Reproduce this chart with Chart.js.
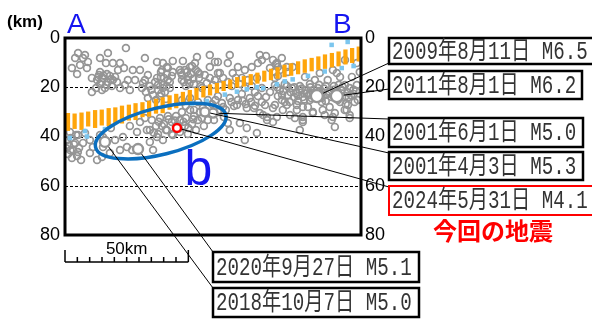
<!DOCTYPE html>
<html><head><meta charset="utf-8">
<script src="https://cdn.jsdelivr.net/npm/chart.js@4"></script>
<style>html,body{margin:0;padding:0;background:#fff;}canvas{display:block;}</style>
</head><body>
<canvas id="c" width="592" height="319"></canvas>
<script>
// ---- data (distance along A-B in km, depth in km) ----
const depthTicks = [0, 20, 40, 60, 80];
const quakes = [
[5.3,6.1],[4.1,8.1],[7.3,8.1],[6.1,11.0],[9.3,9.7],[8.9,12.2],[4.9,14.6],[14.2,8.1],[17.4,6.1],[16.6,10.2],
[19.4,10.2],[22.3,10.2],[24.7,4.1],[21.5,13.0],[23.9,12.2],[27.5,13.0],[30.4,13.0],[10.9,16.2],[13.4,15.8],[14.2,13.8],
[20.3,15.8],[21.1,17.9],[25.5,17.1],[28.4,17.1],[31.6,18.3],[33.6,15.0],[37.3,9.7],[37.3,16.2],[37.7,19.1],[43.7,9.3],
[47.8,9.3],[41.3,11.8],[43.7,13.8],[49.4,13.8],[47.4,17.1],[52.7,10.2],[2.8,12.2],[8.1,6.9],[32.4,8.1],[39.3,13.0],
[13.0,17.1],[14.2,18.7],[15.4,16.2],[16.2,20.3],[17.4,17.9],[18.2,15.4],[19.0,19.5],[12.6,20.3],[15.0,21.1],[17.0,14.6],
[13.8,15.0],[19.4,17.1],[22.3,20.3],[24.3,19.1],[26.3,21.1],[10.9,21.9],
[31.2,20.3],[32.8,21.9],[34.4,19.5],[35.7,23.1],[36.5,17.9],[37.7,21.1],[38.5,23.6],[39.7,19.1],[40.5,21.9],[41.7,17.1],
[42.5,20.3],[33.6,24.4],[36.9,25.2],[40.9,24.8],[32.4,17.1],[38.9,15.8],
[53.5,7.7],[58.7,6.9],[62.0,9.7],[66.8,6.9],[66.0,10.2],[70.1,11.8],[72.9,13.0],[75.7,11.8],[78.2,10.2],[79.0,6.9],
[71.7,16.2],[68.0,14.2],[62.8,14.2],[60.8,9.7],[58.7,11.8],[62.0,14.2],[50.7,11.8],[46.6,13.0],[41.7,12.2],[39.7,10.2],
[47.4,15.0],[48.6,13.0],[49.8,17.1],[51.1,14.6],[52.3,18.7],[53.1,13.0],[54.3,16.2],[55.1,19.5],[49.0,19.5],[51.5,11.4],
[53.9,13.8],[48.2,17.9],[38.9,13.8],[40.1,16.2],[41.3,14.6],[42.5,17.9],[39.7,20.3],[43.3,15.4],[58.7,16.2],[60.0,19.1],
[55.5,20.3],[57.5,18.3],[56.7,15.0],[60.8,17.1],[62.8,19.1],[64.1,16.2],[66.0,17.9],[67.6,19.5],[69.3,16.2],[70.9,18.7],
[72.9,20.3],[74.1,17.1],[75.7,19.5],[77.8,16.2],
[79.8,8.9],[85.9,10.2],[89.9,11.8],[87.9,8.1],[92.3,11.8],[84.3,8.9],[86.3,11.8],[90.3,13.8],[97.3,15.8],[103.3,14.2],
[108.6,13.0],[111.5,15.8],[116.3,15.8],[118.3,19.1],[113.5,19.1],[110.2,14.2],[118.3,10.2],[119.5,13.8],[113.5,8.9],[81.5,7.3],
[83.1,12.2],[84.7,13.8],[86.3,15.4],[85.1,16.2],[87.1,13.0],[85.5,10.6],
[85.1,19.1],[87.1,21.1],[89.1,18.7],[90.3,23.1],[92.0,20.3],[93.6,22.3],[95.2,19.5],[96.4,24.0],[97.7,21.1],[99.3,18.7],
[100.5,22.3],[102.5,20.3],[104.1,24.4],[105.7,19.5],[107.3,21.9],[109.0,19.5],[110.6,25.2],[112.2,21.1],[113.8,23.6],[115.4,20.3],
[117.0,22.7],[118.7,25.2],[87.9,25.2],[91.1,26.0],[94.4,25.6],[99.3,25.2],[105.7,25.6],[113.8,26.8],[86.3,23.6],[83.1,21.9],
[79.8,20.3],[81.5,24.0],[101.3,17.1],[106.5,17.1],[104.0,22.0],[106.0,23.0],[108.0,24.0],[101.0,21.0],[99.0,23.0],[97.0,22.5],
[95.0,21.0],[93.0,24.0],[110.0,23.0],[115.0,24.0],[117.0,21.0],[103.0,19.0],[111.0,19.0],[88.0,23.0],[86.0,20.0],
[88.5,21.5],[90.0,19.5],[91.5,22.0],[93.0,20.0],[94.5,23.5],[96.0,20.5],[98.0,22.5],[99.5,20.0],[101.5,23.5],[103.0,21.5],
[105.0,20.5],[107.0,22.5],[109.0,21.0],[111.0,23.5],[112.5,19.8],[114.5,22.0],[116.0,23.2],[118.0,21.5],[100.0,24.5],[97.0,25.0],
[47.4,25.2],[49.0,27.6],[50.7,24.4],[52.3,29.2],[53.9,26.0],[55.9,28.4],[57.9,25.2],[59.6,26.8],[62.0,23.6],[63.6,26.4],
[65.2,29.2],[66.8,24.4],[68.5,27.6],[70.1,25.2],[71.7,22.7],[73.3,26.8],[74.9,24.4],[76.6,28.4],[78.2,23.6],[79.8,26.0],
[77.0,21.9],[81.1,27.2],[85.1,27.2],[89.1,26.0],[94.0,27.2],[98.5,28.0],[104.1,26.0],[107.3,28.0],[111.5,26.0],[114.7,27.2],
[117.4,26.0],[88.3,29.2],[94.0,29.2],[96.4,32.1],[100.5,30.1],[105.3,31.3],[109.4,30.5],[113.4,29.2],[115.4,32.5],[108.1,33.3],
[96.4,34.1],[81.9,32.1],[84.3,34.1],[93.2,32.5],[109.4,36.1],[95.2,37.4],[80.3,31.3],[64.1,28.0],[69.7,27.2],[73.7,28.4],
[79.0,30.5],[84.3,28.4],[89.9,27.2],[91.2,31.3],[96.4,28.0],[100.5,30.5],[104.5,29.2],[108.6,32.1],[114.2,29.2],[115.4,31.3],
[66.8,37.4],[73.7,36.5],[81.9,33.3],[85.9,32.1],[96.4,33.3],[66.0,34.5],[77.8,38.6],[70.9,34.5],[72.9,41.4],
[61.0,25.2],[67.5,26.0],[72.0,25.5],[75.5,26.0],[77.0,27.5],
[50.0,15.5],[52.0,16.5],[54.5,14.5],[50.5,18.5],[47.0,14.0],[14.8,17.8],[16.8,19.0],[18.5,16.8],[15.6,15.2],
[35.0,21.0],[39.0,22.5],[41.2,19.5],
[47.4,30.1],[49.0,32.5],[50.7,29.2],[52.3,31.7],[53.9,33.3],[51.5,34.9],[48.6,35.7],[46.6,33.3],[45.0,31.7],[43.3,34.1],
[41.7,31.7],[40.1,34.9],[38.5,32.5],[36.9,35.7],[35.2,33.3],[34.4,37.4],[37.7,39.0],[40.9,37.4],[43.3,39.0],[46.6,38.2],
[49.8,39.0],[53.1,37.4],[56.3,35.7],[57.9,33.3],[33.2,37.4],[37.3,40.2],[39.7,41.4],[41.3,37.4],[43.7,39.4],[35.7,45.5],
[29.2,38.2],[34.4,42.2],[39.3,35.7],[45.0,35.7],[54.7,30.1],[55.5,32.5],[60.4,33.3],[62.0,30.1],[64.4,32.1],
[42.0,33.0],[44.5,33.5],[46.0,36.8],[48.0,34.0],[50.0,36.5],[52.0,33.0],[38.0,34.0],[36.0,38.5],
[0.8,41.4],[1.6,43.8],[2.4,40.6],[3.2,45.5],[4.1,42.6],[4.9,47.9],[5.7,44.7],[6.5,49.5],[1.2,47.1],[2.8,48.7],
[4.5,39.4],[2.0,38.2],[7.3,42.6],[10.1,41.4],[11.3,44.3],[10.1,46.7],[13.0,49.5],[15.0,48.3],[18.2,46.7],[14.2,39.4],
[20.3,41.4],[23.5,40.2],[25.1,44.3],[27.2,45.5],[22.3,45.5],[15.4,44.3],[8.1,38.6],[5.3,39.4],[15.4,40.2],[18.6,36.5],
[26.3,35.7],[30.4,34.1],[32.4,32.5],[3.6,43.2],[2.2,45.6],[5.2,46.3],[0.6,44.8]
];
const lightBlue = [
[2.0,40.6],[8.1,37.8],[8.9,40.0],[16.2,37.0],[51.5,26.6],[57.5,25.6],[64.8,23.0],[69.7,21.8],[73.7,20.8],[77.8,20.0],
[80.3,20.4],[85.9,18.8],[89.1,17.6],[92.3,16.8],[98.5,15.4],[105.3,13.6],[112.2,12.2],[108.1,2.8],[114.6,1.6],[117.0,11.4]
];
// plate boundary band (vertical orange bars)
const bandX = [1.2,3.9,6.7,9.4,12.2,14.9,17.7,20.4,23.1,25.9,28.6,31.4,34.1,36.9,39.6,42.4,45.1,47.8,50.6,53.3,
  56.1,58.8,61.6,64.3,67.0,69.8,72.5,75.3,78.0,80.8,83.5,86.2,89.0,91.7,94.5,97.2,100.0,102.7,105.4,108.2,110.9,113.7,116.4,119.1];
const bandTop = [30.6,30.8,30.4,30.0,29.4,29.2,28.6,28.3,27.6,27.2,26.6,26.2,25.6,24.8,24.2,23.4,22.8,22.0,21.2,20.4,
  19.6,19.0,18.4,17.6,17.0,16.0,15.6,14.8,14.2,13.4,12.6,12.0,11.0,10.4,9.6,8.8,8.2,7.6,6.8,6.2,5.6,4.8,4.2,3.6];
const bandBottom = [37.6,36.8,37.2,35.8,36.4,35.4,35.6,34.4,34.6,33.4,33.2,32.0,31.8,30.6,30.4,29.0,28.4,27.2,26.4,25.0,
  24.0,23.2,22.2,21.4,20.6,20.0,19.6,19.0,18.4,17.6,17.0,16.4,15.8,15.2,14.6,14.0,13.4,12.8,12.4,11.8,11.4,10.6,10.0,9.4];
// labelled earthquakes
const eventLabels = ["2009年8月11日 M6.5","2011年8月1日 M6.2","2001年6月1日 M5.0","2001年4月3日 M5.3",
  "2024年5月31日 M4.1","2020年9月27日 M5.1","2018年10月7日 M5.0"];
const eventX = [102.1,110.2,60.0,56.7,45.4,29.6,16.2];
const eventDepth = [23.6,23.6,30.5,30.0,36.5,45.1,42.2];
const currentIndex = 4;
const regionLabel = "b";
const currentLabel = "今回の地震";
const scaleBarKm = 50;

// ---- layout / style ----
const eventRadius = [6,6,4.5,4.5,4,5,5];
const boxLayout = [ // x, y, w, h, leader target x, y
  [389,38,215,26,389,63],[389,71,193,28,389,89],[389,118,194,29,389,119],[389,152,194,28,389,153],
  [389,186,215,29,389,187],[213,252,206,30,213,252],[213,288,206,29,213,288]];
const ellipseSpec = {cx:38.8, cy:37.8, a:27.2, b:9.5, rot:-14};

const overlay = {
  id:'overlay',
  beforeDatasetsDraw(chart){
    const {ctx, chartArea:a, scales:{y}} = chart;
    ctx.save();
    ctx.strokeStyle='#000'; ctx.lineWidth=1; ctx.setLineDash([3,2]);
    depthTicks.slice(1,-1).forEach(v=>{
      const py=Math.round(y.getPixelForValue(v))+0.5;
      ctx.beginPath(); ctx.moveTo(a.left,py); ctx.lineTo(a.right,py); ctx.stroke();
    });
    ctx.restore();
  },
  afterDatasetsDraw(chart){
    const {ctx, chartArea:a, scales:{x,y}} = chart;
    const kx = x.getPixelForValue(1)-x.getPixelForValue(0);
    const ky = y.getPixelForValue(1)-y.getPixelForValue(0);
    ctx.save();
    // ellipse
    ctx.strokeStyle='#0b6fbf'; ctx.lineWidth=3.5;
    ctx.beginPath();
    ctx.ellipse(x.getPixelForValue(ellipseSpec.cx), y.getPixelForValue(ellipseSpec.cy),
      ellipseSpec.a*kx, ellipseSpec.b*ky, ellipseSpec.rot*Math.PI/180, 0, Math.PI*2);
    ctx.stroke();
    // region label b
    ctx.fillStyle='#1414f0'; ctx.font='50px "Liberation Sans", Arial, sans-serif';
    ctx.textBaseline='alphabetic'; ctx.textAlign='left';
    ctx.fillText(regionLabel, x.getPixelForValue(48.4), y.getPixelForValue(59.8));
    // leader lines
    const meta = chart.getDatasetMeta(1);
    ctx.strokeStyle='#000'; ctx.lineWidth=1;
    eventLabels.forEach((t,i)=>{
      const p = meta.data[i]; const b = boxLayout[i];
      const dx=b[4]-p.x, dy=b[5]-p.y, d=Math.hypot(dx,dy);
      const r=eventRadius[i]+1;
      ctx.beginPath(); ctx.moveTo(p.x+dx/d*r, p.y+dy/d*r); ctx.lineTo(b[4],b[5]); ctx.stroke();
    });
    // frame
    ctx.strokeStyle='#000'; ctx.lineWidth=3;
    ctx.strokeRect(a.left, a.top, a.right-a.left, a.bottom-a.top);
    // boxes
    eventLabels.forEach((t,i)=>{
      const b = boxLayout[i];
      const col = i===currentIndex ? '#ff0000' : '#000';
      ctx.save();
      ctx.fillStyle='#fff'; ctx.fillRect(b[0],b[1],b[2],b[3]);
      ctx.strokeStyle=col; ctx.lineWidth= i===currentIndex ? 2 : 2.5;
      ctx.strokeRect(b[0],b[1],b[2],b[3]);
      ctx.translate(b[0]+3, b[1]+b[3]/2+1); ctx.scale(0.8,1.05);
      ctx.font='24px "Liberation Mono", "Noto Sans CJK JP", monospace';
      ctx.fillStyle='#333'; ctx.textBaseline='middle'; ctx.textAlign='left';
      ctx.fillText(t,0,0);
      ctx.restore();
    });
    // current quake caption
    ctx.fillStyle='#ff0000'; ctx.font='bold 24px "Noto Sans CJK JP", sans-serif';
    ctx.textBaseline='middle'; ctx.textAlign='left';
    ctx.fillText(currentLabel, 433, 231);
    // A / B
    ctx.fillStyle='#1414f0'; ctx.font='28px "Liberation Sans", Arial, sans-serif';
    ctx.textBaseline='alphabetic';
    ctx.fillText('A', 67, 33); ctx.fillText('B', 333, 33);
    // (km)
    ctx.fillStyle='#000'; ctx.font='bold 17px "Liberation Sans", Arial, sans-serif';
    ctx.fillText('(km)', 7, 27);
    // scale bar
    const x0=x.getPixelForValue(0), yb=262;
    ctx.lineWidth=1.5; ctx.strokeStyle='#000';
    ctx.beginPath(); ctx.moveTo(x0,yb); ctx.lineTo(x.getPixelForValue(scaleBarKm),yb);
    for(let k=0;k<=scaleBarKm;k+=5){
      const px=x.getPixelForValue(k);
      ctx.moveTo(px,yb); ctx.lineTo(px,(k===0||k===scaleBarKm)?250:257);
    }
    ctx.stroke();
    ctx.font='17px "Liberation Sans", Arial, sans-serif'; ctx.textAlign='center';
    ctx.fillText(scaleBarKm+'km', x.getPixelForValue(scaleBarKm/2), 254);
    ctx.restore();
  }
};

const tickCfg = (pos, w, pad) => ({
  type:'linear', position:pos, reverse:true, min:0, max:80,
  afterBuildTicks: s => { s.ticks = depthTicks.map(v=>({value:v})); },
  ticks:{font:{family:'"Liberation Sans", Arial, sans-serif', size:18}, color:'#000', padding:pad},
  grid:{display:false, drawTicks:false}, border:{display:false},
  afterFit: s => { s.width = w; }
});

new Chart(document.getElementById('c'), {
  type:'scatter',
  data:{ datasets:[
    { label:'band', type:'bar', data: bandX.map((v,i)=>({x:v, y:[bandTop[i], bandBottom[i]]})),
      backgroundColor:'#ffa50a', borderWidth:0, barThickness:3.6, yAxisID:'y', order:3 },
    { label:'events', data: eventX.map((v,i)=>({x:v, y:eventDepth[i]})),
      pointRadius: eventRadius, pointBackgroundColor:'#fff',
      pointBorderColor: eventX.map((v,i)=> i===currentIndex ? '#ff0000' : '#959595'),
      pointBorderWidth: eventX.map((v,i)=> i===currentIndex ? 2.5 : 2.4), yAxisID:'y', order:1 },
    { label:'slab', data: lightBlue.map(p=>({x:p[0], y:p[1]})), pointStyle:'rect',
      pointRadius:3.2, pointBackgroundColor:'#7cc6ee', pointBorderColor:'#7cc6ee', pointBorderWidth:0,
      yAxisID:'y', order:2 },
    { label:'quakes', data: quakes.map(p=>({x:p[0], y:p[1]})), pointRadius:3.4,
      pointBackgroundColor:'rgba(0,0,0,0)', pointBorderColor:'#959595', pointBorderWidth:1.7,
      yAxisID:'y', order:5 }
  ]},
  options:{
    responsive:false, animation:false, devicePixelRatio:1, events:[],
    layout:{padding:{left:0, top:38, right:201, bottom:84}},
    plugins:{legend:{display:false}, tooltip:{enabled:false}},
    scales:{
      x:{type:'linear', min:0, max:120, display:false, offset:false},
      y: tickCfg('left', 65, 5),
      y2: tickCfg('right', 30, 4)
    }
  },
  plugins:[overlay]
});
</script>
</body></html>
